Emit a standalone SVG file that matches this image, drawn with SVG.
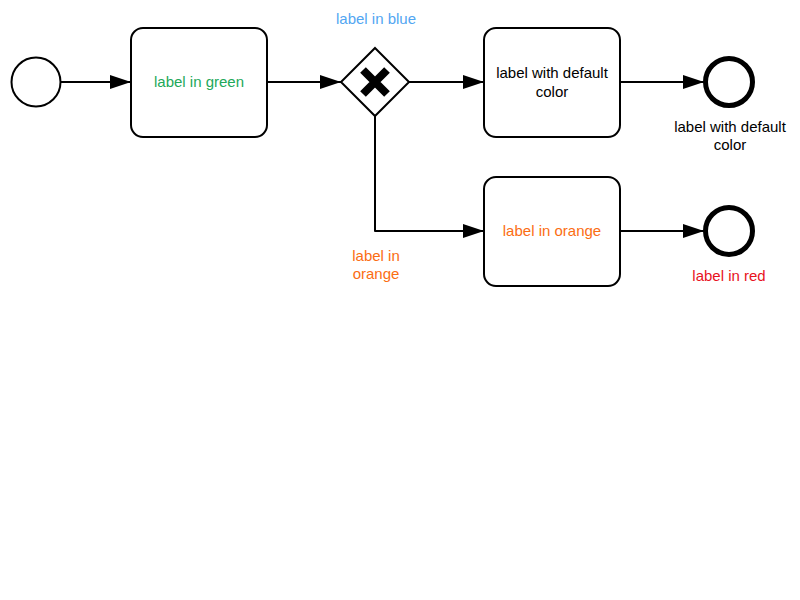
<svg xmlns="http://www.w3.org/2000/svg" width="800" height="600" viewBox="0 0 800 600">
  <style>
    .shape { fill: #ffffff; stroke: #000000; stroke-width: 2; }
    .end { fill: #ffffff; stroke: #000000; stroke-width: 5; }
    .flow { fill: none; stroke: #000000; stroke-width: 2; stroke-linejoin: round; marker-end: url(#arrow); }
    text { font-family: "Liberation Sans", Arial, sans-serif; font-size: 15px; text-anchor: middle; }
    .green { fill: #22a85a; }
    .blue { fill: #52a6f2; }
    .orange { fill: #fb6d12; }
    .red { fill: #e8121d; }
    .black { fill: #000000; }
  </style>
  <defs>
    <marker id="arrow" markerUnits="userSpaceOnUse" markerWidth="21" markerHeight="14" refX="21" refY="7" orient="auto">
      <path d="M0,0 L21,7 L0,14 Z" fill="#000000"/>
    </marker>
  </defs>

  <!-- sequence flows -->
  <g id="connectors">
    <path class="flow" d="M61,82 L131,82"/>
    <path class="flow" d="M267,82 L341,82"/>
    <path class="flow" d="M409,82 L484,82"/>
    <path class="flow" d="M620,82 L704,82"/>
    <path class="flow" d="M375,116 L375,231 L484,231"/>
    <path class="flow" d="M620,231 L704,231"/>
    <text class="orange" x="376" y="261">label in</text>
    <text class="orange" x="376" y="279">orange</text>
  </g>

  <g id="start">
    <circle class="shape" cx="36" cy="82" r="24.5"/>
  </g>

  <g id="taskGreen">
    <rect class="shape" x="131" y="28" width="136" height="109" rx="12"/>
    <text class="green" x="199" y="87">label in green</text>
  </g>

  <g id="gateway">
    <polygon class="shape" points="375,48 409,82 375,116 341,82"/>
    <path d="M363,70 L387,94 M387,70 L363,94" stroke="#000000" stroke-width="8" fill="none"/>
    <text class="blue" x="376" y="24">label in blue</text>
  </g>

  <g id="taskDefault">
    <rect class="shape" x="484" y="28" width="136" height="109" rx="12"/>
    <text class="black" x="552" y="78">label with default</text>
    <text class="black" x="552" y="97">color</text>
  </g>

  <g id="endDefault">
    <circle class="end" cx="729" cy="82" r="23.5"/>
    <text class="black" x="730" y="132">label with default</text>
    <text class="black" x="730" y="150">color</text>
  </g>

  <g id="taskOrange">
    <rect class="shape" x="484" y="177" width="136" height="109" rx="12"/>
    <text class="orange" x="552" y="236">label in orange</text>
  </g>

  <g id="endRed">
    <circle class="end" cx="729" cy="231" r="23.5"/>
    <text class="red" x="729" y="281">label in red</text>
  </g>
</svg>
